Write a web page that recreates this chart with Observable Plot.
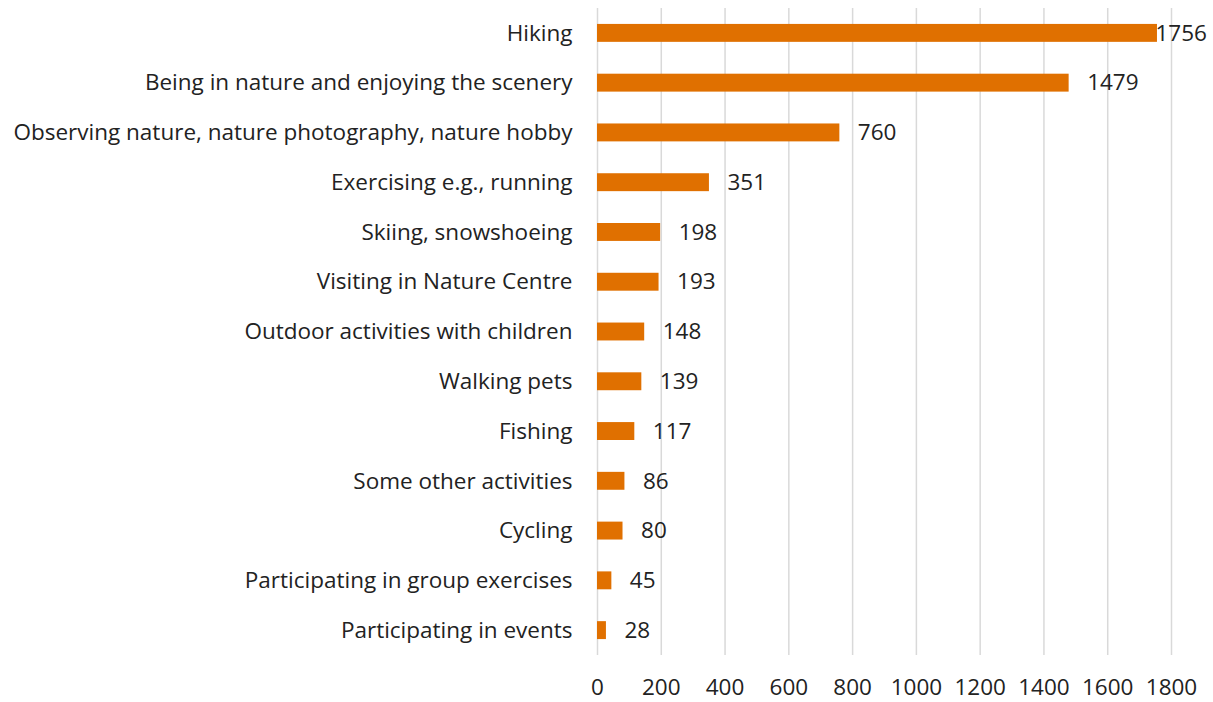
<!DOCTYPE html>
<html>
<head>
<meta charset="utf-8">
<script src="https://cdn.jsdelivr.net/npm/d3@7"></script>
<script src="https://cdn.jsdelivr.net/npm/@observablehq/plot@0.6"></script>
<style>
  html, body { margin: 0; padding: 0; background: #fff; }
  #chart svg { display: block; }
</style>
</head>
<body>
<div id="chart"></div>
<script>
const activities = [
  "Hiking",
  "Being in nature and enjoying the scenery",
  "Observing nature, nature photography, nature hobby",
  "Exercising e.g., running",
  "Skiing, snowshoeing",
  "Visiting in Nature Centre",
  "Outdoor activities with children",
  "Walking pets",
  "Fishing",
  "Some other activities",
  "Cycling",
  "Participating in group exercises",
  "Participating in events"
];
const counts = [1756, 1479, 760, 351, 198, 193, 148, 139, 117, 86, 80, 45, 28];
const xTicks = [0, 200, 400, 600, 800, 1000, 1200, 1400, 1600, 1800];

const data = activities.map((a, i) => ({activity: a, count: counts[i]}));
const maxVal = d3.max(counts);

const chart = Plot.plot({
  width: 1213,
  height: 702,
  marginLeft: 597,
  marginRight: 42,
  marginTop: 8,
  marginBottom: 47,
  style: {fontFamily: "'Open Sans', sans-serif", fontSize: "22.5px", color: "#222", background: "#fff"},
  x: {domain: [0, 1800], ticks: xTicks, tickFormat: "d", label: null, tickSize: 0, tickPadding: 24},
  y: {domain: activities, label: null, tickSize: 0, tickPadding: 25, paddingInner: 0.64, paddingOuter: 0.32, round: false},
  marks: [
    Plot.ruleX(xTicks, {stroke: "#d9d9d9", strokeWidth: 1.5}),
    Plot.barX(data, {x: "count", y: "activity", fill: "#E07000"}),
    Plot.text(data.filter(d => d.count !== maxVal), {x: "count", y: "activity", text: d => String(d.count), textAnchor: "start", dx: 18, fill: "#222", fontSize: 22.5}),
    Plot.text(data.filter(d => d.count === maxVal), {x: "count", y: "activity", text: d => String(d.count), textAnchor: "start", dx: -2, fill: "#222", fontSize: 22.5})
  ]
});
document.getElementById("chart").appendChild(chart);
</script>
</body>
</html>
